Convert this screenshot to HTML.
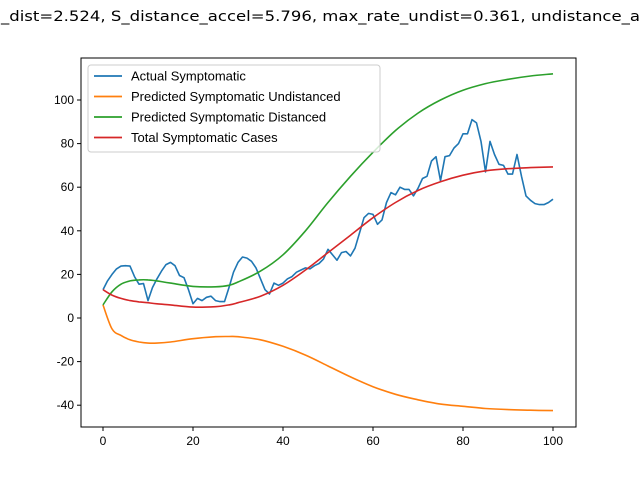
<!DOCTYPE html>
<html><head><meta charset="utf-8"><style>
body{margin:0;background:#fff;overflow:hidden}
svg{display:block;font-family:"Liberation Sans","DejaVu Sans",sans-serif}
</style></head><body>
<svg id="chart" width="640" height="480">
<text y="21" font-size="14.5" font-family="DejaVu Sans, sans-serif"><tspan x="0" text-anchor="end">S</tspan><tspan x="1" textLength="639" lengthAdjust="spacingAndGlyphs">_dist=2.524, S_distance_accel=5.796, max_rate_undist=0.361, undistance_a</tspan><tspan x="641">ccel=0.000</tspan></text>
<g id="plot"></g>
</svg>
<script>
const actualY=[13,17,20,22.5,23.8,24,23.8,19,15.5,15.8,8,14,18,21.5,24.5,25.5,24,19.5,18.5,13,6.5,9,8,9.5,10,8,7.5,7.5,14,21,25.5,28,27.5,26,23,18,13,11,16,15,16,18,19,21,22,23,22.5,24,25,27,31.5,29,26.5,30,30.5,28.5,32,39,46,48,47.5,43,45,53,57.5,56.5,60,59,59,56,59.5,64,65,72,74,63,74,74.5,78,80,84.5,84.5,91,89.5,81,67,81,75,70.5,70,66,66,75,65,56,54,52.5,52,52,53,54.5];
const curveX=[0,2,4,6,8,10,12,15,20,25,28,30,35,40,45,50,55,60,65,70,75,80,85,90,95,100];
const undistY=[6,-5,-8,-10,-11,-11.5,-11.5,-11,-9.5,-8.6,-8.5,-8.6,-10,-13,-17,-22,-27,-31.5,-35,-37.5,-39.5,-40.5,-41.5,-42,-42.3,-42.5];
const distY=[6,12,15.5,17,17.5,17.5,17,16,14.5,14.3,15,16.5,21.5,29,40,53,65,76,86,94,100,104.5,107.5,109.5,111,112];
const totalY=[13,10.5,9,8,7.4,7,6.5,6,5,5.2,6,7,10,15,22,30,38,46,53,58.5,62.5,65.5,67.5,68.5,69,69.3];
const xTicks=[0,20,40,60,80,100];
const yTicks=[-40,-20,0,20,40,60,80,100];
const L=81,R=576,T=58,B=427;
const sx=v=>103+(v-0)*4.5;
const sy=v=>318-v*2.18;
const NS="http://www.w3.org/2000/svg";
const g=document.getElementById('plot');
function mk(t,a,p){const e=document.createElementNS(NS,t);for(const k in a)e.setAttribute(k,a[k]);(p||g).appendChild(e);return e;}
function line(xs,ys,color,name){
  const pts=xs.map((x,i)=>sx(x).toFixed(1)+','+sy(ys[i]).toFixed(1)).join(' ');
  const e=mk('polyline',{points:pts,fill:'none',stroke:color,'stroke-width':1.6,'stroke-linejoin':'round'});
  
  
}
function smooth(xs,ys,color,name){
  const P=xs.map((x,i)=>[sx(x),sy(ys[i])]);
  let d='M'+P[0][0].toFixed(1)+','+P[0][1].toFixed(1);
  for(let i=0;i<P.length-1;i++){
    const p0=P[Math.max(0,i-1)],p1=P[i],p2=P[i+1],p3=P[Math.min(P.length-1,i+2)];
    const c1=[p1[0]+(p2[0]-p0[0])/6,p1[1]+(p2[1]-p0[1])/6];
    const c2=[p2[0]-(p3[0]-p1[0])/6,p2[1]-(p3[1]-p1[1])/6];
    d+=' C'+c1.map(v=>v.toFixed(1)).join(',')+' '+c2.map(v=>v.toFixed(1)).join(',')+' '+p2.map(v=>v.toFixed(1)).join(',');
  }
  const e=mk('path',{d:d,fill:'none',stroke:color,'stroke-width':1.6});
  
  
}
line(actualY.map((v,i)=>i),actualY,'#1f77b4','actual-symptomatic-line');
smooth(curveX,undistY,'#ff7f0e','predicted-undistanced-line');
smooth(curveX,distY,'#2ca02c','predicted-distanced-line');
smooth(curveX,totalY,'#d62728','total-symptomatic-line');
const fr=mk('rect',{x:L,y:T,width:R-L,height:B-T,fill:'none',stroke:'#000','stroke-width':1});


xTicks.forEach(t=>{
  mk('line',{x1:sx(t),x2:sx(t),y1:B,y2:B+4,stroke:'#000'});
  const tx=mk('text',{x:sx(t),y:B+18,'font-size':12,'text-anchor':'middle'});tx.textContent=t;
  
  
});
yTicks.forEach(t=>{
  mk('line',{x1:L-4,x2:L,y1:sy(t),y2:sy(t),stroke:'#000'});
  const tx=mk('text',{x:L-7,y:sy(t)+4,'font-size':12,'text-anchor':'end'});tx.textContent=t;
  
  
});
const lg=mk('g',{});


mk('rect',{x:88,y:65,width:292,height:87,rx:3,fill:'rgba(255,255,255,0.8)',stroke:'#ccc'},lg);
const labs=['Actual Symptomatic','Predicted Symptomatic Undistanced','Predicted Symptomatic Distanced','Total Symptomatic Cases'];
const cols=['#1f77b4','#ff7f0e','#2ca02c','#d62728'];
labs.forEach((s,i)=>{
  const y=76+i*20.5;
  mk('line',{x1:94,x2:122,y1:y,y2:y,stroke:cols[i],'stroke-width':1.8},lg);
  const t=mk('text',{x:131,y:y+4.5,'font-size':13},lg);t.textContent=s;
  
  
});
</script>
</body></html>
